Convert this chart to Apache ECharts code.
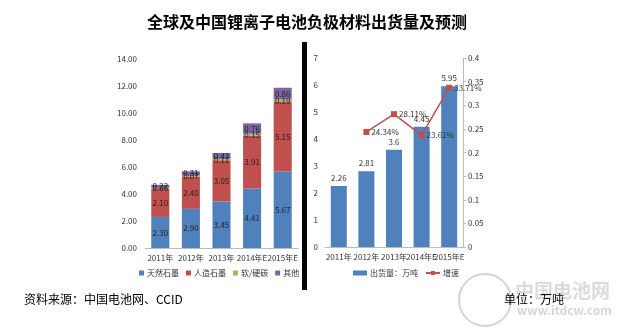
<!DOCTYPE html>
<html><head><meta charset="utf-8">
<script src="https://cdn.jsdelivr.net/npm/echarts@6/dist/echarts.min.js"></script>
<style>html,body{margin:0;padding:0;background:#fff}#c{width:622px;height:334px}</style>
</head><body><div id="c"></div>
<script>
const leftYears = ['2011年','2012年','2013年','2014年E','2015年E'];
const natural = [2.30, 2.90, 3.45, 4.41, 5.67];
const artificial = [2.10, 2.40, 3.05, 3.91, 5.15];
const softHard = [0.06, 0.07, 0.11, 0.15, 0.19];
const others = [0.22, 0.31, 0.43, 0.76, 0.86];
const leftTicks = [0, 14, 2];

const rightYears = ['2011年','2012年','2013年','2014年E','2015年E'];
const shipment = [2.26, 2.81, 3.6, 4.45, 5.95];
const growth = [null, 0.2434, 0.2811, 0.2361, 0.3371];

const C = {blue:'#4F81BD', red:'#C0504D', green:'#9BBB59', purple:'#8064A2'};
const FONT = '"Noto Sans CJK SC", "Noto Sans", sans-serif';

const chart = echarts.init(document.getElementById('c'));
const lbl = {show:true, position:'inside', fontSize:8, color:'#222', fontFamily:FONT, formatter:p=>p.value.toFixed(2)};
function stackSeries(name, data, color){
  return {name, type:'bar', stack:'s', xAxisIndex:0, yAxisIndex:0, data, barWidth:'59%',
    itemStyle:{color}, label:lbl};
}
chart.setOption({
  animation:false,
  title:{text:'全球及中国锂离子电池负极材料出货量及预测', left:142, top:9,
    textStyle:{fontSize:16, fontWeight:'bold', color:'#000', fontFamily:FONT}},
  grid:[
    {left:145, right:324, top:59, bottom:86},
    {left:325, right:159, top:58, bottom:87}
  ],
  legend:[
    {data:['天然石墨','人造石墨','软/硬碳','其他'], left:134, top:264, itemWidth:5, itemHeight:5, itemGap:7,
      textStyle:{fontSize:8, color:'#333', fontFamily:FONT, padding:[0,0,0,-2]}, icon:'rect'},
    {data:[{name:'出货量：万吨', icon:'rect'}, {name:'增速'}], left:348, top:264, itemWidth:14, itemHeight:5, itemGap:7,
      textStyle:{fontSize:8, color:'#333', fontFamily:FONT, padding:[0,0,0,-2]}}
  ],
  xAxis:[
    {type:'category', gridIndex:0, data:leftYears, axisLine:{lineStyle:{color:'#bbb'}}, axisTick:{show:false},
      axisLabel:{fontSize:8, color:'#333', fontFamily:FONT, margin:6, interval:0}},
    {type:'category', gridIndex:1, data:rightYears, axisLine:{lineStyle:{color:'#bbb'}}, axisTick:{show:false},
      axisLabel:{fontSize:8, color:'#333', fontFamily:FONT, margin:6, interval:0}}
  ],
  yAxis:[
    {type:'value', gridIndex:0, min:leftTicks[0], max:leftTicks[1], interval:leftTicks[2], splitLine:{show:false},
      axisLine:{show:false}, axisTick:{show:false},
      axisLabel:{fontSize:8, color:'#333', fontFamily:FONT, margin:8, formatter:v=>v.toFixed(2)}},
    {type:'value', gridIndex:1, min:0, max:7, interval:1, splitLine:{show:false},
      axisLine:{show:false}, axisTick:{show:false},
      axisLabel:{fontSize:8, color:'#333', fontFamily:FONT, margin:7}},
    {type:'value', gridIndex:1, position:'right', min:0, max:0.4, interval:0.05, splitLine:{show:false},
      axisLine:{show:true, lineStyle:{color:'#bbb'}}, axisTick:{show:true, inside:false, length:3, lineStyle:{color:'#bbb'}},
      axisLabel:{fontSize:8, color:'#333', fontFamily:FONT, margin:5}}
  ],
  series:[
    stackSeries('天然石墨', natural, C.blue),
    stackSeries('人造石墨', artificial, C.red),
    stackSeries('软/硬碳', softHard, C.green),
    stackSeries('其他', others, C.purple),
    {name:'出货量：万吨', type:'bar', xAxisIndex:1, yAxisIndex:1, data:shipment, barWidth:'58%',
      itemStyle:{color:C.blue},
      label:{show:true, position:'top', fontSize:8, color:'#333', fontFamily:FONT, distance:4}},
    {name:'增速', type:'line', xAxisIndex:1, yAxisIndex:2, data:growth, symbol:'rect', symbolSize:6,
      lineStyle:{color:C.red, width:1.5}, itemStyle:{color:C.red},
      label:{show:true, position:'right', fontSize:8, color:'#333', fontFamily:FONT, distance:2,
        formatter:p=>(p.value*100).toFixed(2)+'%'}}
  ],
  graphic:[
    {type:'rect', shape:{x:302, y:42, width:5, height:248}, style:{fill:'#000'}},
    {type:'text', left:24, top:293, style:{text:'资料来源：中国电池网、CCID', fontSize:12, fill:'#000', fontFamily:FONT}},
    {type:'circle', shape:{cx:485, cy:300, r:26}, style:{fill:'none', stroke:'rgba(170,170,170,0.5)', lineWidth:2}},
    {type:'text', left:515, top:281, style:{text:'中国电池网', fontSize:19, fontWeight:'bold', fill:'rgba(190,190,190,0.55)', fontFamily:FONT}},
    {type:'text', left:517, top:304, style:{text:'www.itdcw.com', fontSize:12, fontWeight:'bold', fill:'rgba(180,180,180,0.55)', fontFamily:FONT}},
    {type:'text', left:504, top:293, style:{text:'单位：万吨', fontSize:12, fill:'#000', fontFamily:FONT}}
  ]
});
</script></body></html>
